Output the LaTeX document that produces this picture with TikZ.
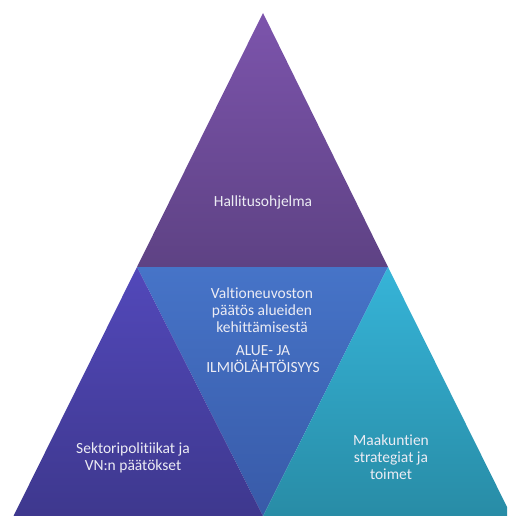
\documentclass[tikz,border=0pt]{standalone}
\usepackage{fontspec}
\setmainfont{Carlito}[Ligatures=NoCommon]
\definecolor{txt}{RGB}{236,236,244}
\definecolor{topT}{RGB}{124,84,172}
\definecolor{topB}{RGB}{94,66,132}
\definecolor{midT}{RGB}{70,116,200}
\definecolor{midB}{RGB}{56,90,168}
\definecolor{lefT}{RGB}{82,72,186}
\definecolor{lefB}{RGB}{62,56,142}
\definecolor{rigT}{RGB}{54,180,216}
\definecolor{rigB}{RGB}{40,140,166}
\tikzset{
  lbl/.style={text=txt, align=center, font=\fontsize{15.5}{17}\selectfont, inner sep=0pt},
}
\begin{document}
\begin{tikzpicture}[x=1pt,y=-1pt]
\useasboundingbox (0,0) rectangle (507,516);
\coordinate (A) at (263,13);
\coordinate (L) at (137,267);
\coordinate (R) at (388,267);
\coordinate (BL) at (13.5,516);
\coordinate (BR) at (511.5,516);
\coordinate (M) at (263,516);
\begin{scope}
\clip (0,0) rectangle (507,516);
\shade[top color=topT, bottom color=topB] (A) -- (R) -- (L) -- cycle;
\shade[top color=midT, bottom color=midB] (L) -- (R) -- (M) -- cycle;
\shade[top color=lefT, bottom color=lefB] (L) -- (M) -- (BL) -- cycle;
\shade[top color=rigT, bottom color=rigB] (R) -- (BR) -- (M) -- cycle;
\end{scope}
\node[lbl] (hall) at (263,202) {Hallitusohjelma};
\node[lbl] (vnp) at (262,310) {Valtioneuvoston\\päätös alueiden\\kehittämisestä};
\node[lbl] (alue) at (263,359.5) {ALUE- JA\\ILMIÖLÄHTÖISYYS};
\node[lbl] (sekt) at (133,458) {Sektoripolitiikat ja\\VN:n päätökset};
\node[lbl] (maak) at (391,457.5) {Maakuntien\\strategiat ja\\toimet};
\end{tikzpicture}
\end{document}
